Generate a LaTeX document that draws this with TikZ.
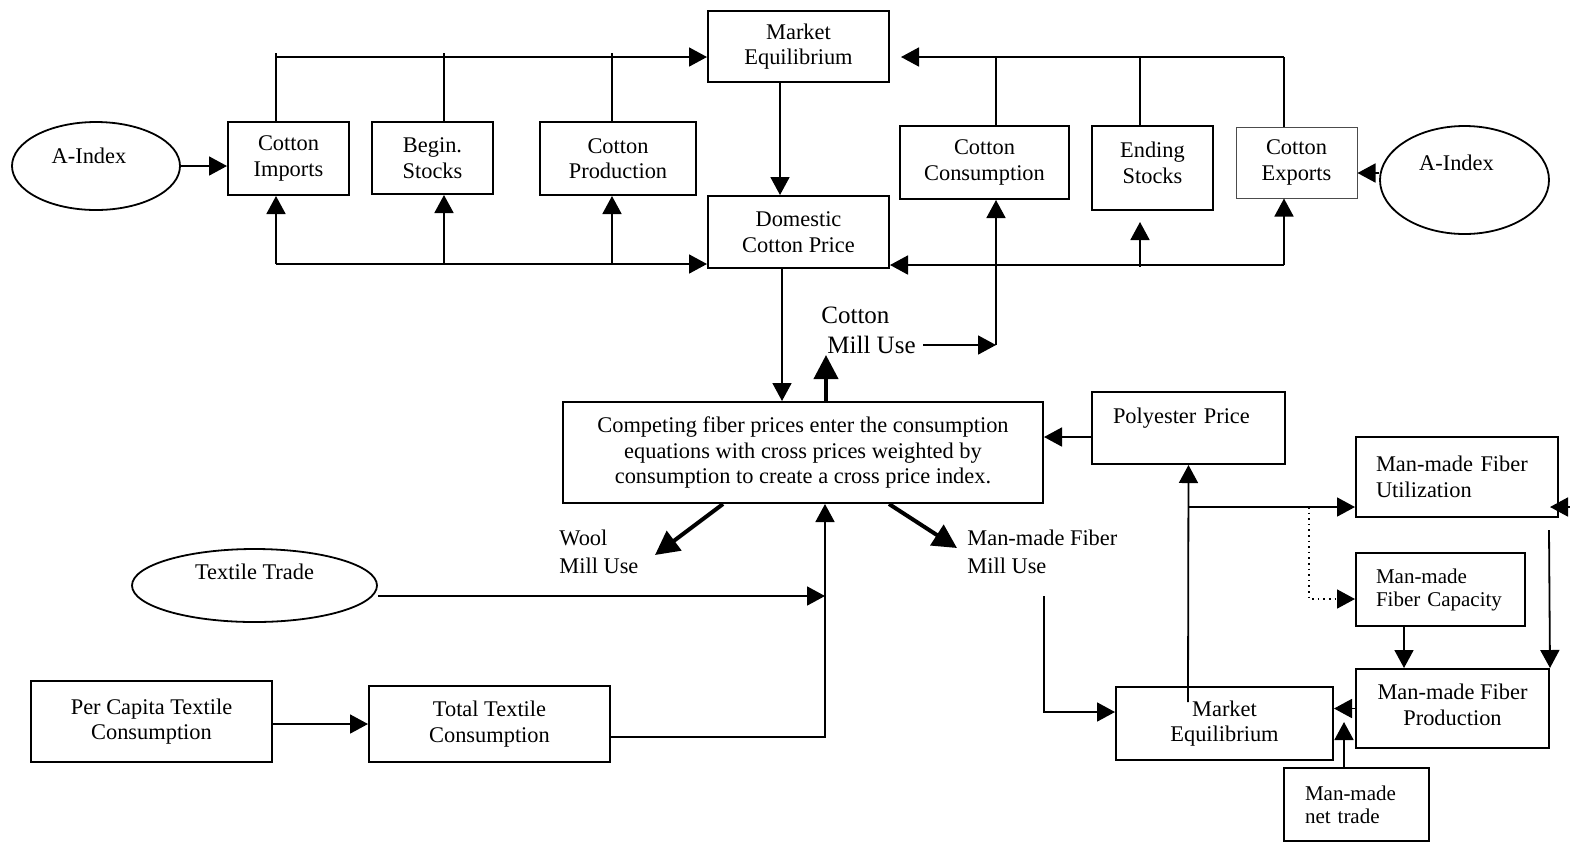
\documentclass[tikz,border=0pt]{standalone}
\usepackage{fontspec}
\setmainfont{Liberation Serif}
\usetikzlibrary{arrows.meta,shapes.geometric}
\begin{document}
\begin{tikzpicture}[x=0.5pt,y=-0.5pt,
 ln/.style={line width=0.9pt},
 arr/.style={ln,-{Triangle[length=9pt,width=9.5pt]}},
 tarr/.style={line width=2pt,-{Triangle[length=12pt,width=12pt]}},
 darr/.style={line width=0.8pt,dotted,-{Triangle[length=9pt,width=9.5pt]}},
 box/.style={draw,line width=1pt,inner sep=0pt,align=center,font=\fontsize{11.2pt}{12.75pt}\selectfont},
 lbox/.style={box,align=left},
 sbox/.style={lbox,font=\fontsize{10.5pt}{11.5pt}\selectfont},
 ell/.style={draw,ellipse,line width=0.9pt,inner sep=0pt,text height=0pt,font=\fontsize{11.2pt}{12.75pt}\selectfont},
 lab/.style={inner sep=0pt,align=left,font=\fontsize{11.2pt}{14pt}\selectfont},
 big/.style={inner sep=0pt,font=\fontsize{12.5pt}{15pt}\selectfont}]
\fill[white] (0,0) rectangle (1570,843);
\useasboundingbox (0,0) rectangle (1570,843);

% top row
\node[ell,minimum width=84pt,minimum height=44pt,text depth=3pt] (ai1) at (96,166) {A-Index\hspace*{7pt}};
\node[box,minimum width=60.5pt,minimum height=36.5pt] (imp) at (288.5,158.5) {Cotton\\Imports};
\node[box,minimum width=60.5pt,minimum height=36pt] (bs) at (432.5,158) {Begin.\\Stocks};
\node[box,minimum width=78pt,minimum height=36.5pt] (cp) at (618,158.5) {Cotton\\Production};
\node[box,minimum width=90.5pt,minimum height=35.5pt] (me1) at (798.5,46.5) {Market\\Equilibrium};
\node[box,minimum width=90.5pt,minimum height=36pt] (dcp) at (798.5,232) {Domestic\\Cotton Price};
\node[box,minimum width=84.5pt,minimum height=36.5pt] (cc) at (984.5,162.5) {Cotton\\Consumption};
\node[box,minimum width=60.5pt,minimum height=42pt] (es) at (1152.5,168) {Ending\\Stocks\rule[-5.5pt]{0pt}{0pt}};
\node[box,line width=0.5pt,draw=black!70,minimum width=60.5pt,minimum height=35.5pt] (ce) at (1296.5,162.5) {Cotton\\Exports};
\node[ell,minimum width=84.5pt,minimum height=54pt,text depth=10pt] (ai2) at (1464.5,180) {A-Index\hspace*{8pt}};

% middle
\node[big,anchor=west] (cmu1) at (821,315) {Cotton};
\node[big,anchor=west] (cmu2) at (827,345) {Mill Use};
\node[box,minimum width=240pt,minimum height=50.5pt] (cfp) at (803,452.5) {Competing fiber prices enter the consumption\\equations with cross prices weighted by\\consumption to create a cross price index.};
\node[lbox,text width=75.5pt,minimum width=96.5pt,minimum height=36pt] (poly) at (1188.5,428) {Polyester Price\\~};
\node[lab,anchor=west] (wool) at (559,552) {Wool\\Mill Use};
\node[lab,anchor=west] (mmfl) at (967,552) {Man-made Fiber\\Mill Use};

% bottom left
\node[ell,minimum width=122.5pt,minimum height=36.5pt,text depth=6.5pt] (tt) at (254.5,585.5) {Textile Trade};
\node[box,minimum width=120.5pt,minimum height=40.5pt] (pc) at (151.5,721.5) {Per Capita Textile\\Consumption};
\node[box,minimum width=120.5pt,minimum height=38pt] (ttc) at (489.5,724) {Total Textile\\Consumption};

% bottom right
\node[lbox,text width=81pt,minimum width=101pt,minimum height=40pt] (util) at (1457,477) {Man-made Fiber\\Utilization};
\node[sbox,text width=64.5pt,minimum width=84.5pt,minimum height=36.5pt] (cap) at (1440.5,589.5) {Man-made\\Fiber Capacity};
\node[box,minimum width=96.5pt,minimum height=39.5pt] (prod) at (1452.5,708.5) {Man-made Fiber\\Production\rule[-4pt]{0pt}{0pt}};
\node[box,minimum width=108.5pt,minimum height=36.5pt] (me2) at (1224.5,723.5) {Market\\Equilibrium};
\node[sbox,text width=51.5pt,minimum width=72.5pt,minimum height=36.5pt] (nt) at (1356.5,804.5) {Man-made\\net trade};

% coordinates
\coordinate (tl) at (276,57);
\coordinate (tlt) at (276,53);
\coordinate (vb) at (444,53);
\coordinate (vp) at (612,53);
\coordinate (bl) at (276,264);
\coordinate (b444) at (444,264);
\coordinate (b612) at (612,264);
\coordinate (tr) at (1284,57);
\coordinate (x996) at (996,57);
\coordinate (x1140) at (1140,57);
\coordinate (brr) at (1284,265);
\coordinate (esb) at (1140,267);
\coordinate (ccb) at (996,345);
\coordinate (mx) at (780,0);
\coordinate (dx) at (782,0);
\coordinate (cmuup) at (826,355);
\coordinate (jn) at (825,596);
\coordinate (wooltip) at (655,555);
\coordinate (mmftip) at (957,548);
\coordinate (mmfs) at (1044,596);
\coordinate (mes) at (1188,702);
\coordinate (br) at (1188,507);
\coordinate (db) at (1309,507);
\coordinate (cx) at (1404,0);
\coordinate (ub) at (1549,530);
\coordinate (ur) at (1570,507);
\coordinate (nx) at (1344,722);
\coordinate (ttl) at (373,596);

% top-left connectors
\draw[arr] (ai1.east) -- (imp.west |- ai1.east);
\draw[arr] (tl) -- (me1.west |- tl);
\draw[ln] (imp.north -| tlt) -- (tlt);
\draw[ln] (bs.north -| vb) -- (vb);
\draw[ln] (cp.north -| vp) -- (vp);
\draw[arr] (bl) -- (dcp.west |- bl);
\draw[arr] (bl) -- (imp.south -| bl);
\draw[arr] (b444) -- (bs.south -| b444);
\draw[arr] (b612) -- (cp.south -| b612);
\draw[arr] (me1.south -| mx) -- (dcp.north -| mx);

% top-right connectors
\draw[arr] (tr) -- ([xshift=5.5pt]me1.east |- tr);
\draw[ln] (cc.north -| x996) -- (x996);
\draw[ln] (es.north -| x1140) -- (x1140);
\draw[ln] (ce.north -| tr) -- (tr);
\draw[arr] (brr) -- (dcp.east |- brr);
\draw[arr] (brr) -- (ce.south -| brr);
\draw[arr] (esb) -- ([yshift=-5.5pt]es.south -| esb);
\draw[arr] ([yshift=3.5pt]ai2.west) -- ([yshift=3.5pt]ai2.west -| ce.east);
\draw[arr] (ccb) -- (cc.south -| ccb);
\draw[arr] ([xshift=3.5pt]cmu2.east) -- (ccb);

% middle connectors
\draw[arr] (dcp.south -| dx) -- (cfp.north -| dx);
\draw[tarr] (cfp.north -| cmuup) -- (cmuup);
\draw[arr] (poly.west |- 0,437) -- (cfp.east |- 0,437);
\draw[tarr] ([xshift=80.5pt]cfp.south west) -- (wooltip);
\draw[tarr] ([xshift=163.5pt]cfp.south west) -- (mmftip);

% bottom-left connectors
\draw[arr] ([yshift=-5.25pt]tt.east) -- (jn);
\draw[arr] (pc.east |- ttc.west) -- (ttc.west);
\draw[arr] ([yshift=-6.5pt]ttc.east) -| (cfp.south -| jn);

% bottom-right connectors
\draw[arr] (mmfs) |- ([yshift=5.75pt]me2.west);
\draw[arr] (mes) -- (poly.south);
\draw[arr] (br) -- (util.west |- br);
\draw[darr] (db) |- ([yshift=-4.75pt]cap.west);
\draw[arr] (cap.south -| cx) -- (prod.north -| cx);
\draw[arr] (ub) -- (prod.north east);
\draw[arr] (ur) -- ([xshift=-4.5pt]util.east |- ur);
\draw[arr] (prod.west) -- (me2.east |- prod.west);
\draw[arr] (nt.north -| nx) -- (nx);
\end{tikzpicture}
\end{document}
